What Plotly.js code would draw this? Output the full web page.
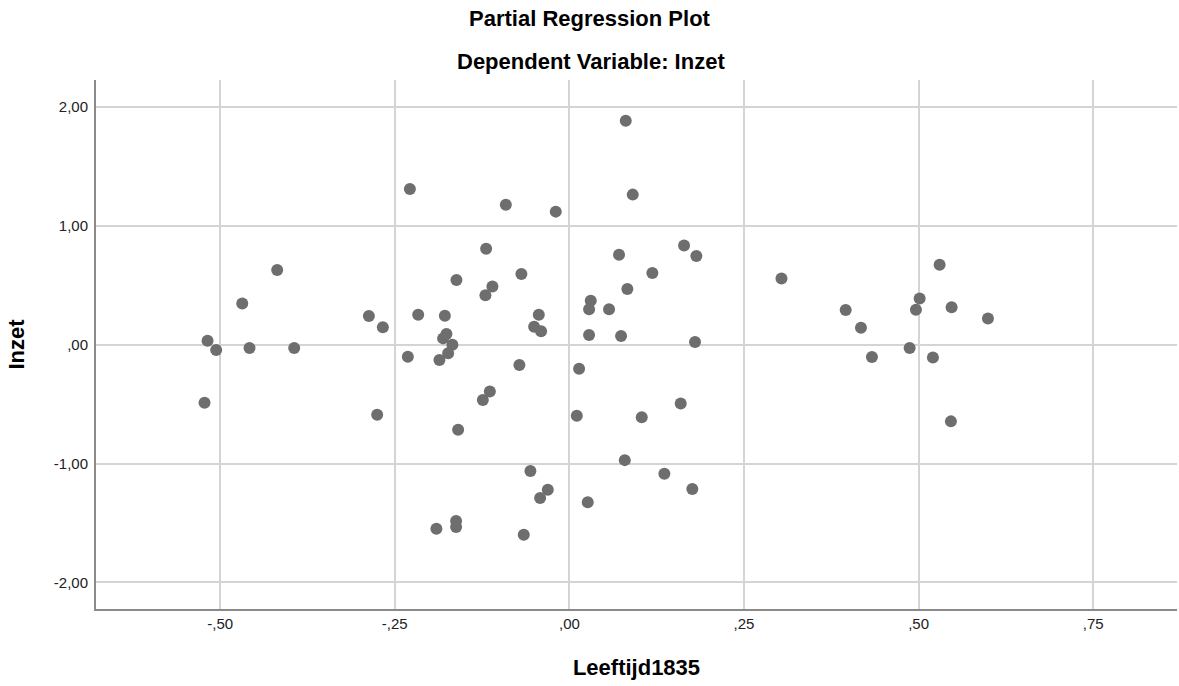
<!DOCTYPE html>
<html>
<head>
<meta charset="utf-8">
<script src="https://cdn.plot.ly/plotly-3.0.1.min.js"></script>
<style>
html,body{margin:0;padding:0;background:#fff;}
#chart{width:1179px;height:686px;}
</style>
</head>
<body>
<div id="chart"></div>
<script>
// Partial regression residuals
const leeftijd1835 = [
  0.0807, -0.2284, 0.0907, -0.0910, -0.0195, -0.1192, 0.1642, 0.0711, 0.1818, -0.4184,
  0.5301, -0.1617, -0.0687, 0.3037, 0.1188, -0.4684, -0.1102, 0.0830, -0.1202, 0.0306,
  0.0568, 0.0282, -0.2871, -0.2165, -0.1783, -0.0438, 0.3956, 0.4962, 0.5015, 0.5473,
  0.5993, -0.2671, 0.4175, -0.0505, -0.0405, -0.1760, -0.1808, 0.0282, 0.0740, -0.1675,
  -0.5181, -0.5057, -0.4580, -0.3940, 0.1799, -0.1736, -0.2313, -0.1861, 0.4872, 0.4332,
  0.5205, -0.0716, 0.0139, -0.1139, -0.1239, -0.5224, 0.1594, -0.2752, 0.0106, 0.1036,
  0.5463, -0.1593, 0.0793, -0.0558, 0.1360, -0.0309, 0.1760, -0.0419, 0.0263, -0.1622,
  -0.1622, -0.1904, -0.0653
];
const inzet = [
  1.884, 1.310, 1.262, 1.177, 1.119, 0.807, 0.835, 0.757, 0.746, 0.628,
  0.673, 0.544, 0.595, 0.557, 0.603, 0.347, 0.490, 0.468, 0.415, 0.370,
  0.297, 0.297, 0.241, 0.252, 0.244, 0.252, 0.292, 0.294, 0.389, 0.314,
  0.221, 0.146, 0.143, 0.151, 0.112, 0.090, 0.053, 0.082, 0.073, 0.000,
  0.034, -0.045, -0.028, -0.028, 0.023, -0.073, -0.101, -0.129, -0.028, -0.103,
  -0.107, -0.171, -0.202, -0.393, -0.465, -0.488, -0.494, -0.589, -0.597, -0.611,
  -0.645, -0.715, -0.971, -1.062, -1.085, -1.220, -1.214, -1.289, -1.326, -1.483,
  -1.533, -1.548, -1.598
];
const xTickVals = [-0.5, -0.25, 0, 0.25, 0.5, 0.75];
const xTickText = ["-,50", "-,25", ",00", ",25", ",50", ",75"];
const yTickVals = [2, 1, 0, -1, -2];
const yTickText = ["2,00", "1,00", ",00", "-1,00", "-2,00"];

const FONT = "Liberation Sans, Arial, sans-serif";

const trace = {
  type: "scatter",
  mode: "markers",
  x: leeftijd1835,
  y: inzet,
  marker: {color: "#6e6e6e", size: 12, line: {width: 0}},
  hoverinfo: "x+y"
};

const layout = {
  width: 1179,
  height: 686,
  paper_bgcolor: "#ffffff",
  plot_bgcolor: "#ffffff",
  margin: {l: 96, r: 2, t: 80, b: 77, pad: 0},
  showlegend: false,
  font: {family: FONT, color: "#222"},
  title: {
    text: "<b>Partial Regression Plot</b>",
    font: {family: FONT, size: 22, color: "#000"},
    x: 0.5, xref: "container", xanchor: "center",
    y: 1 - 18 / 686, yref: "container", yanchor: "middle"
  },
  annotations: [{
    text: "<b>Dependent Variable: Inzet</b>",
    xref: "paper", yref: "paper",
    x: (591 - 96) / 1081, y: 1 + 18 / 529,
    xanchor: "center", yanchor: "middle",
    showarrow: false,
    font: {family: FONT, size: 22, color: "#000"}
  }],
  xaxis: {
    range: [-0.6778, 0.870],
    tickvals: xTickVals,
    ticktext: xTickText,
    tickfont: {family: FONT, size: 15, color: "#222"},
    ticks: "",
    showgrid: true,
    gridcolor: "#d4d4d4",
    gridwidth: 2,
    zeroline: false,
    showline: true,
    linecolor: "#8a8a8a",
    linewidth: 2,
    automargin: false,
    title: {text: "<b>Leeftijd1835</b>", font: {family: FONT, size: 22, color: "#000"}, standoff: 29}
  },
  yaxis: {
    range: [-2.223, 2.226],
    tickvals: yTickVals,
    ticktext: yTickText,
    tickfont: {family: FONT, size: 15, color: "#222"},
    ticks: "",
    ticklabelstandoff: 3,
    showgrid: true,
    gridcolor: "#d4d4d4",
    gridwidth: 2,
    zeroline: false,
    showline: true,
    linecolor: "#8a8a8a",
    linewidth: 2,
    automargin: false,
    title: {text: "<b>Inzet</b>", font: {family: FONT, size: 22, color: "#000"}, standoff: 23}
  }
};

Plotly.newPlot("chart", [trace], layout, {displayModeBar: false, staticPlot: true});
</script>
</body>
</html>
